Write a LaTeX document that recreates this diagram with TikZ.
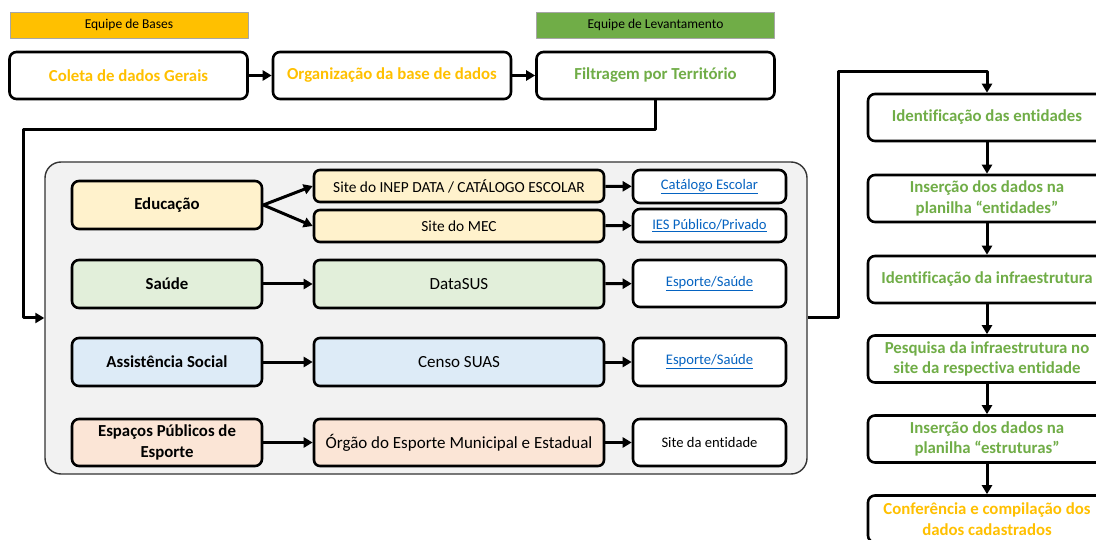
\documentclass[tikz,border=0pt]{standalone}
\usepackage{fontspec}
\setmainfont{Carlito}[Ligatures={NoCommon}]
\usetikzlibrary{arrows.meta}
\definecolor{orangeq}{HTML}{FFC000}
\definecolor{greenq}{HTML}{70AD47}
\definecolor{eduq}{HTML}{FFF2CC}
\definecolor{saudeq}{HTML}{E2EFDA}
\definecolor{assisq}{HTML}{DDEBF7}
\definecolor{espq}{HTML}{FBE5D6}
\definecolor{grpq}{HTML}{F2F2F2}
\definecolor{linkq}{HTML}{0563C1}
\newcommand{\lnk}[1]{\textcolor{linkq}{\underline{#1}}}
\tikzset{
  team/.style={draw=gray!70, line width=0.8pt, minimum width=238pt, minimum height=26pt, inner sep=0pt, font=\fontsize{13.5}{15}\selectfont},
  stage/.style={draw, line width=2.6pt, rounded corners=7pt, fill=white, minimum width=238pt, minimum height=47pt, align=center, inner sep=0pt, font=\bfseries\fontsize{16.8}{20.5}\selectfont},
  area/.style={draw, line width=2.6pt, rounded corners=7pt, minimum width=190pt, minimum height=48pt, align=center, inner sep=0pt, font=\bfseries\fontsize{16.8}{21}\selectfont},
  source/.style={draw, line width=2.6pt, rounded corners=6pt, minimum width=290pt, minimum height=48pt, inner sep=0pt, font=\fontsize{17}{19}\selectfont},
  thin/.style={minimum height=32pt, font=\fontsize{15.4}{17}\selectfont},
  result/.style={draw, line width=2.6pt, rounded corners=7pt, fill=white, minimum width=153pt, minimum height=47pt, inner sep=0pt, font=\fontsize{14.6}{16}\selectfont},
  flow/.style={line width=3pt, ->}
}
\begin{document}
\begin{tikzpicture}[x=1pt,y=-1pt,line join=round,>={Triangle[length=9pt,width=10pt]}]
  \useasboundingbox (0,0) rectangle (1096,540);
  % teams
  \node[team, fill=orangeq] (tbases) at (129,25) {Equipe de Bases};
  \node[team, fill=greenq] (tlev) at (655.5,25) {Equipe de Levantamento};
  % top row
  \node[stage, text=orangeq] (coleta) at (128.5,75.5) {Coleta de dados Gerais};
  \node[stage, text=orangeq] (org) at (392,75.5) {Organização da base de dados};
  \node[stage, text=greenq] (filt) at (655.5,75.5) {Filtragem por Território};
  \draw[flow] (coleta) -- (org);
  \draw[flow] (org) -- (filt);
  % group of sources
  \node[draw=black!80, line width=1.4pt, rounded corners=16pt, fill=grpq, minimum width=762pt, minimum height=312pt] (grp) at (426,318) {};
  \node[area, fill=eduq] (edu) at (167,205) {Educação};
  \node[area, fill=saudeq] (saude) at (167,284) {Saúde};
  \node[area, fill=assisq] (assis) at (167,362) {Assistência Social};
  \node[area, fill=espq, minimum height=47pt] (esp) at (167,442.5) {Espaços Públicos de\\Esporte};
  \node[source, thin, fill=eduq] (inep) at (459,186) {Site do INEP DATA / CATÁLOGO ESCOLAR};
  \node[source, thin, fill=eduq] (mec) at (459,226) {Site do MEC};
  \node[source, fill=saudeq] (datasus) at (459,284) {DataSUS};
  \node[source, fill=assisq] (suas) at (459,362) {Censo SUAS};
  \node[source, fill=espq, minimum height=47pt] (orgao) at (459,442.5) {Órgão do Esporte Municipal e Estadual};
  \node[result, minimum height=33pt] (cat) at (709.5,186.5) {\lnk{Catálogo Escolar}};
  \node[result, minimum height=33pt] (ies) at (709.5,225.5) {\lnk{IES Público/Privado}};
  \node[result] (esp1) at (709.5,283.5) {\lnk{Esporte/Saúde}};
  \node[result, minimum height=48pt] (esp2) at (709.5,362) {\lnk{Esporte/Saúde}};
  \node[result] (site) at (709.5,442.5) {Site da entidade};
  \draw[flow] (edu.east) -- (inep.west);
  \draw[flow] (edu.east) -- (mec.west);
  \draw[flow] (saude) -- (datasus);
  \draw[flow] (assis) -- (suas);
  \draw[flow] (esp) -- (orgao);
  \draw[flow] (inep) -- (cat);
  \draw[flow] (mec) -- (ies);
  \draw[flow] (datasus) -- (esp1);
  \draw[flow] (suas) -- (esp2);
  \draw[flow] (orgao) -- (site);
  % survey column
  \node[stage, text=greenq] (ident) at (987,117.5) {Identificação das entidades};
  \node[stage, text=greenq] (insent) at (987,198.5) {Inserção dos dados na\\planilha “entidades”};
  \node[stage, text=greenq] (idinf) at (987,279.5) {Identificação da infraestrutura};
  \node[stage, text=greenq] (pesq) at (987,359) {Pesquisa da infraestrutura no\\site da respectiva entidade};
  \node[stage, text=greenq] (insest) at (987,439) {Inserção dos dados na\\planilha “estruturas”};
  \node[stage, text=orangeq] (conf) at (987,519) {Conferência e compilação dos\\dados cadastrados};
  \draw[flow] (ident) -- (insent);
  \draw[flow] (insent) -- (idinf);
  \draw[flow] (idinf) -- (pesq);
  \draw[flow] (pesq) -- (insest);
  \draw[flow] (insest) -- (conf);
  % links between blocks
  \coordinate (bendA) at (23,130);
  \coordinate (bendB) at (838,72);
  \draw[flow] (filt.south) |- (bendA) |- (grp.west);
  \draw[flow] (grp.east) -| (bendB) -| (ident.north);
\end{tikzpicture}
\end{document}
